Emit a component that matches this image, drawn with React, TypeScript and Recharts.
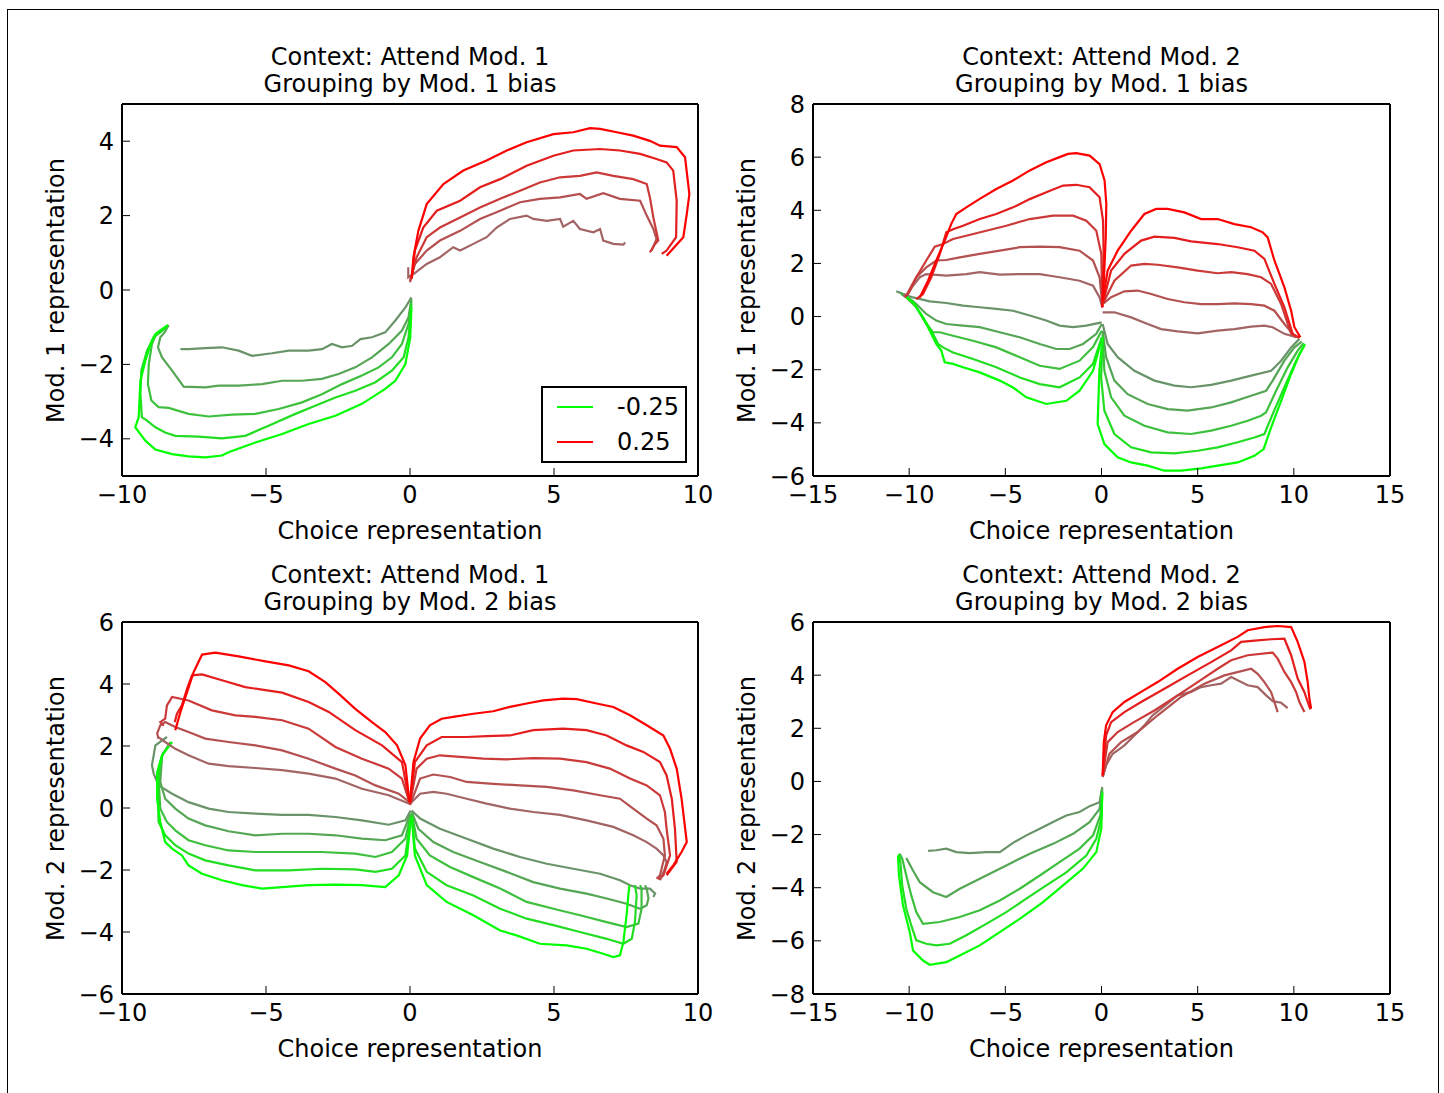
import React from 'react';
import { LineChart, Line, XAxis, YAxis } from 'recharts';

type Pt = [number, number];

// tick values
const ticksX10 = [-10, -5, 0, 5, 10];
const ticksX15 = [-15, -10, -5, 0, 5, 10, 15];
const ticksY1 = [-4, -2, 0, 2, 4];
const ticksY2 = [-6, -4, -2, 0, 2, 4, 6, 8];
const ticksY3 = [-6, -4, -2, 0, 2, 4, 6];
const ticksY4 = [-8, -6, -4, -2, 0, 2, 4, 6];

// colours, strongest bias first
const GREENS = ['#00ff00', '#22dd22', '#3ec03e', '#55a655', '#699369'];
const REDS = ['#ff0000', '#e41d1d', '#cc3939', '#b45050', '#a26464'];

// ---- panel 1: attend mod 1, grouped by mod 1 bias (strongest -> weakest)
const p1Green: Pt[][] = [
  [[0.05,-0.47],[0.01,-1.27],[-0.16,-1.99],[-0.51,-2.44],[-0.86,-2.66],[-1.67,-3.06],[-2.59,-3.38],[-3.52,-3.6],[-4.44,-3.87],[-5.37,-4.1],[-6.3,-4.36],[-6.53,-4.45],[-7.11,-4.5],[-7.69,-4.47],[-8.26,-4.41],[-8.84,-4.29],[-9.19,-4.05],[-9.54,-3.69],[-9.42,-3.42],[-9.36,-2.44],[-9.19,-1.9],[-8.96,-1.36],[-8.84,-1.18],[-8.61,-1.05],[-8.4,-0.94]],
  [[0.05,-0.38],[-0.05,-1.27],[-0.22,-1.81],[-0.63,-2.17],[-1.2,-2.48],[-1.9,-2.71],[-2.59,-2.89],[-3.29,-3.11],[-3.98,-3.33],[-4.91,-3.65],[-5.72,-3.92],[-6.53,-3.99],[-7.34,-3.94],[-8.15,-3.92],[-8.5,-3.83],[-8.84,-3.69],[-9.13,-3.51],[-9.31,-3.42],[-9.36,-2.8],[-9.33,-2.17],[-9.13,-1.63],[-8.9,-1.27],[-8.63,-1.11],[-8.44,-0.99]],
  [[0.05,-0.29],[-0.05,-0.91],[-0.28,-1.45],[-0.63,-1.81],[-1.09,-2.08],[-1.67,-2.3],[-2.36,-2.53],[-3.06,-2.8],[-3.75,-3.02],[-4.56,-3.2],[-5.37,-3.33],[-6.18,-3.35],[-6.99,-3.4],[-7.69,-3.33],[-8.38,-3.17],[-8.73,-3.15],[-8.98,-2.97],[-9.1,-2.53],[-9.07,-1.99],[-8.96,-1.45],[-8.84,-1.23],[-8.61,-1.09],[-8.44,-0.96]],
  [[0.05,-0.24],[-0.05,-0.73],[-0.28,-1.09],[-0.74,-1.45],[-1.32,-1.81],[-1.9,-2.08],[-2.48,-2.26],[-3.06,-2.39],[-3.75,-2.44],[-4.44,-2.44],[-5.14,-2.53],[-5.95,-2.57],[-6.64,-2.57],[-7.11,-2.62],[-7.86,-2.6],[-8.26,-2.17],[-8.61,-1.81],[-8.75,-1.54],[-8.67,-1.27],[-8.52,-1.14],[-8.38,-0.94]],
  [[0.05,-0.2],[-0.16,-0.47],[-0.51,-0.82],[-0.86,-1.14],[-1.32,-1.27],[-1.72,-1.32],[-2.01,-1.5],[-2.36,-1.54],[-2.71,-1.45],[-3.06,-1.59],[-3.52,-1.63],[-4.21,-1.63],[-4.79,-1.7],[-5.49,-1.77],[-5.95,-1.63],[-6.53,-1.54],[-7.11,-1.56],[-7.69,-1.59],[-7.97,-1.59]],
];
const p1Red: Pt[][] = [
  [[0.06,0.34],[0.12,0.88],[0.29,1.59],[0.58,2.31],[1.16,2.85],[1.85,3.21],[2.66,3.48],[3.36,3.75],[4.05,3.97],[4.98,4.19],[5.67,4.24],[6.25,4.35],[6.6,4.33],[7.18,4.24],[7.75,4.15],[8.33,4.01],[8.68,3.88],[9.26,3.84],[9.55,3.57],[9.7,2.58],[9.61,2.04],[9.49,1.42],[8.91,0.92]],
  [[0.06,0.3],[0.17,1.06],[0.46,1.68],[0.93,2.13],[1.74,2.4],[2.43,2.76],[3.13,2.98],[4.05,3.34],[4.98,3.61],[5.67,3.75],[6.6,3.79],[7.29,3.75],[7.99,3.66],[8.56,3.52],[8.91,3.43],[9.14,3.21],[9.26,2.4],[9.24,1.42],[8.91,1.06],[8.74,0.97]],
  [[0.0,0.25],[0.23,0.88],[0.58,1.42],[1.04,1.68],[1.74,1.95],[2.43,2.22],[3.13,2.45],[3.82,2.67],[4.51,2.89],[5.21,3.03],[5.9,3.07],[6.48,3.16],[7.06,3.07],[7.75,2.98],[8.22,2.85],[8.33,2.49],[8.45,1.95],[8.62,1.33],[8.51,1.24],[8.33,1.01]],
  [[0.0,0.21],[0.17,0.7],[0.58,1.06],[1.04,1.33],[1.74,1.59],[2.43,1.91],[3.13,2.13],[3.82,2.36],[4.51,2.45],[5.21,2.49],[5.9,2.58],[6.13,2.45],[6.71,2.6],[7.29,2.45],[7.99,2.4],[8.22,2.0],[8.45,1.64],[8.56,1.37],[8.39,1.06]],
  [[-0.06,0.61],[-0.06,0.34],[0.12,0.43],[0.58,0.7],[1.04,0.88],[1.5,1.15],[1.74,1.06],[2.2,1.24],[2.66,1.42],[3.01,1.68],[3.47,1.91],[4.05,2.0],[4.28,1.91],[4.75,1.86],[5.21,1.91],[5.32,1.7],[5.67,1.86],[5.9,1.64],[6.37,1.55],[6.6,1.64],[6.71,1.33],[7.06,1.24],[7.41,1.22],[7.47,1.28]],
];

// ---- panel 2: attend mod 2, grouped by mod 1 bias
const p2RedL: Pt[][] = [
  [[0.04,0.35],[0.13,1.48],[0.22,2.98],[0.25,4.24],[0.16,5.12],[-0.1,5.74],[-0.62,6.06],[-1.31,6.15],[-1.74,6.12],[-2.18,6.0],[-2.87,5.81],[-3.73,5.5],[-4.6,5.12],[-5.47,4.8],[-6.33,4.43],[-7.03,4.11],[-7.55,3.86],[-7.81,3.49],[-8.15,2.86],[-8.59,2.11],[-9.02,1.35],[-9.45,0.72]],
  [[0.04,0.35],[0.11,2.36],[0.08,3.61],[-0.1,4.49],[-0.62,4.87],[-1.31,4.96],[-2.0,4.93],[-2.87,4.68],[-3.73,4.42],[-4.6,4.11],[-5.47,3.86],[-6.33,3.67],[-7.2,3.42],[-7.72,3.29],[-8.07,3.17],[-8.41,2.35],[-8.85,1.48],[-9.28,0.85],[-9.63,0.66]],
  [[0.04,0.35],[-0.01,2.36],[-0.27,3.23],[-0.79,3.61],[-1.48,3.8],[-2.52,3.8],[-3.73,3.67],[-4.95,3.42],[-5.99,3.23],[-7.03,3.04],[-7.72,2.92],[-8.24,2.73],[-8.67,2.63],[-9.11,2.11],[-9.63,1.48],[-10.06,0.85],[-10.23,0.72]],
  [[0.04,0.47],[-0.1,1.48],[-0.44,2.11],[-1.14,2.48],[-2.18,2.61],[-3.21,2.63],[-4.25,2.61],[-5.29,2.48],[-6.33,2.36],[-7.37,2.23],[-8.07,2.13],[-8.59,2.11],[-9.11,1.85],[-9.63,1.48],[-9.97,1.04],[-10.15,0.79]],
  [[0.04,0.35],[-0.1,0.72],[-0.44,1.16],[-1.14,1.35],[-2.18,1.48],[-3.21,1.6],[-4.25,1.6],[-5.29,1.58],[-6.33,1.67],[-7.03,1.6],[-8.07,1.54],[-9.11,1.6],[-9.45,1.48],[-9.8,1.16],[-10.06,0.85],[-10.32,0.79]],
];
const p2RedR: Pt[][] = [
  [[0.06,0.6],[0.32,1.73],[0.84,2.48],[1.54,3.23],[2.23,3.86],[2.84,4.05],[3.44,4.05],[4.31,3.92],[5.18,3.67],[6.04,3.67],[6.91,3.48],[7.78,3.36],[8.38,3.17],[8.64,2.98],[8.99,2.11],[9.51,1.1],[9.86,0.22],[10.03,-0.4],[10.34,-0.78]],
  [[0.06,0.47],[0.5,1.73],[1.19,2.36],[2.06,2.86],[2.75,3.01],[3.79,2.96],[4.66,2.83],[6.04,2.73],[7.08,2.61],[7.95,2.48],[8.47,2.17],[8.99,1.23],[9.51,0.35],[9.94,-0.65],[10.3,-0.8]],
  [[0.06,0.47],[0.67,1.35],[1.54,1.92],[2.23,1.98],[2.92,1.95],[3.96,1.85],[5.0,1.73],[6.04,1.63],[6.74,1.67],[7.6,1.6],[8.3,1.48],[8.82,1.23],[9.34,0.47],[9.86,-0.65],[10.25,-0.8]],
  [[0.06,0.47],[0.5,0.73],[1.19,0.95],[1.88,0.98],[2.58,0.85],[3.44,0.66],[4.31,0.54],[5.18,0.47],[6.04,0.47],[6.91,0.5],[7.78,0.47],[8.47,0.41],[8.99,0.22],[9.51,-0.28],[10.03,-0.72]],
  [[0.06,0.16],[0.67,0.16],[1.54,-0.03],[2.4,-0.28],[3.1,-0.47],[3.96,-0.56],[5.0,-0.63],[6.04,-0.53],[6.91,-0.47],[7.78,-0.38],[8.47,-0.34],[8.9,-0.4],[9.51,-0.65],[10.12,-0.78]],
];
const p2GreenL: Pt[][] = [
  [[-0.06,-1.03],[-0.44,-2.04],[-1.14,-2.79],[-1.83,-3.17],[-2.87,-3.29],[-3.91,-3.04],[-4.6,-2.67],[-5.29,-2.41],[-6.33,-2.1],[-7.2,-1.91],[-7.72,-1.78],[-8.15,-1.72],[-8.33,-1.28],[-8.59,-1.03],[-8.85,-0.65],[-9.28,-0.03],[-9.8,0.54],[-10.15,0.72]],
  [[0.01,-0.78],[-0.44,-1.78],[-1.14,-2.29],[-2.18,-2.66],[-3.21,-2.54],[-4.25,-2.29],[-5.47,-1.91],[-6.68,-1.6],[-7.72,-1.35],[-8.24,-1.16],[-8.5,-1.03],[-8.76,-0.65],[-9.28,-0.03],[-9.8,0.54],[-10.23,0.79]],
  [[0.01,-0.53],[-0.44,-1.15],[-1.14,-1.66],[-2.18,-1.97],[-3.21,-1.85],[-4.25,-1.53],[-5.47,-1.16],[-6.68,-0.91],[-7.72,-0.72],[-8.41,-0.59],[-8.76,-0.59],[-9.11,-0.28],[-9.63,0.35],[-10.15,0.72],[-10.41,0.85]],
  [[0.01,-0.28],[-0.27,-0.65],[-0.96,-1.03],[-1.66,-1.22],[-2.35,-1.22],[-3.21,-1.03],[-4.25,-0.78],[-5.29,-0.59],[-6.33,-0.4],[-7.2,-0.34],[-8.07,-0.28],[-8.59,-0.15],[-9.11,0.1],[-9.63,0.47],[-10.15,0.79],[-10.49,0.91]],
  [[0.01,-0.22],[-0.79,-0.34],[-1.48,-0.4],[-2.18,-0.34],[-2.87,-0.15],[-3.73,0.04],[-4.6,0.22],[-5.47,0.29],[-6.33,0.35],[-7.2,0.41],[-8.07,0.51],[-8.93,0.57],[-9.8,0.72],[-10.32,0.85],[-10.67,0.95]],
];
const p2GreenR: Pt[][] = [
  [[0.06,-0.78],[-0.11,-2.04],[-0.2,-4.05],[0.15,-4.8],[0.84,-5.3],[1.54,-5.49],[2.4,-5.61],[3.27,-5.8],[4.14,-5.8],[5.18,-5.71],[6.04,-5.61],[7.08,-5.49],[7.95,-5.24],[8.43,-4.99],[8.82,-4.17],[9.34,-3.17],[9.86,-2.16],[10.29,-1.41],[10.58,-1.03]],
  [[0.06,-0.78],[-0.02,-2.29],[0.15,-3.54],[0.67,-4.42],[1.54,-4.92],[2.58,-5.11],[3.79,-5.15],[5.0,-5.05],[6.04,-4.92],[7.08,-4.73],[7.95,-4.55],[8.47,-4.42],[8.9,-3.67],[9.51,-2.66],[10.12,-1.66],[10.55,-1.09]],
  [[0.06,-0.66],[0.15,-2.04],[0.5,-3.04],[1.19,-3.73],[2.23,-4.11],[3.44,-4.36],[4.66,-4.42],[5.7,-4.29],[6.74,-4.11],[7.6,-3.92],[8.3,-3.73],[8.56,-3.6],[9.08,-2.79],[9.68,-1.91],[10.2,-1.28],[10.51,-1.0]],
  [[0.06,-0.53],[0.24,-1.53],[0.67,-2.41],[1.36,-2.92],[2.4,-3.29],[3.44,-3.48],[4.48,-3.54],[5.7,-3.42],[6.74,-3.23],[7.78,-2.98],[8.56,-2.79],[8.9,-2.41],[9.51,-1.66],[10.03,-1.16],[10.41,-0.94]],
  [[0.06,-0.28],[0.32,-1.03],[0.84,-1.53],[1.71,-2.04],[2.75,-2.41],[3.79,-2.6],[4.66,-2.66],[5.7,-2.57],[6.74,-2.41],[7.78,-2.22],[8.82,-2.04],[9.34,-1.66],[9.86,-1.16],[10.29,-0.84]],
];

// ---- panel 3: attend mod 1, grouped by mod 2 bias
const p3RedL: Pt[][] = [
  [[-0.02,0.19],[-0.16,1.38],[-0.45,2.02],[-0.86,2.45],[-1.32,2.77],[-1.9,3.2],[-2.48,3.69],[-2.94,4.06],[-3.52,4.41],[-4.21,4.6],[-5.02,4.73],[-5.95,4.89],[-6.76,5.01],[-7.22,4.95],[-7.51,4.39],[-7.74,3.74],[-7.97,3.1],[-8.15,2.51]],
  [[-0.02,0.19],[-0.28,1.48],[-0.97,2.02],[-1.9,2.51],[-2.82,3.1],[-3.52,3.42],[-4.44,3.72],[-5.02,3.8],[-5.72,3.9],[-6.53,4.12],[-7.22,4.31],[-7.57,4.28],[-7.74,3.85],[-7.92,3.31],[-8.09,3.04],[-8.17,2.77]],
  [[-0.02,0.19],[-0.28,0.95],[-0.74,1.27],[-1.67,1.59],[-2.59,1.97],[-3.52,2.56],[-4.44,2.83],[-5.37,2.94],[-6.06,2.99],[-6.88,3.15],[-7.69,3.47],[-8.26,3.58],[-8.44,3.31],[-8.5,2.88],[-8.67,2.77],[-8.55,2.65]],
  [[-0.02,0.19],[-0.39,0.46],[-1.2,0.73],[-1.9,1.05],[-2.59,1.27],[-3.52,1.59],[-4.44,1.86],[-5.37,2.02],[-6.3,2.13],[-7.11,2.24],[-7.69,2.45],[-8.15,2.61],[-8.5,2.77],[-8.67,2.67],[-8.78,2.4],[-8.73,2.24]],
  [[-0.02,0.14],[-0.74,0.41],[-1.67,0.62],[-2.59,0.95],[-3.52,1.11],[-4.44,1.22],[-5.37,1.29],[-6.3,1.35],[-6.99,1.43],[-7.69,1.7],[-8.15,1.91],[-8.5,2.13],[-8.67,2.24],[-8.78,2.29]],
];
const p3RedR: Pt[][] = [
  [[0.0,0.19],[0.12,1.48],[0.35,2.24],[0.69,2.67],[1.1,2.88],[1.5,2.94],[2.2,3.04],[2.89,3.12],[3.47,3.26],[4.05,3.37],[4.63,3.47],[5.32,3.53],[5.79,3.51],[6.48,3.37],[7.06,3.26],[7.64,2.99],[8.22,2.67],[8.8,2.34],[9.03,1.91],[9.26,1.27],[9.43,0.3],[9.61,-1.1],[9.43,-1.42],[9.14,-1.85],[8.91,-2.12]],
  [[0.0,0.14],[0.17,1.48],[0.58,2.02],[1.1,2.29],[1.97,2.29],[2.66,2.32],[3.47,2.34],[4.28,2.51],[5.32,2.56],[6.13,2.51],[6.83,2.34],[7.52,2.02],[8.1,1.81],[8.68,1.48],[8.91,1.05],[9.09,0.3],[9.2,-0.67],[9.26,-1.74],[8.91,-2.17]],
  [[0.0,0.14],[0.23,1.27],[0.58,1.59],[1.04,1.7],[1.74,1.65],[2.55,1.59],[3.36,1.57],[4.28,1.61],[5.21,1.59],[6.13,1.48],[6.94,1.27],[7.64,0.95],[8.22,0.73],[8.68,0.41],[8.85,-0.13],[8.91,-0.67],[9.03,-1.53],[8.8,-2.17],[8.62,-2.3]],
  [[0.0,0.09],[0.35,0.95],[0.81,1.08],[1.39,1.0],[1.97,0.84],[2.89,0.78],[3.82,0.73],[4.75,0.68],[5.67,0.57],[6.6,0.41],[7.29,0.3],[7.75,-0.02],[8.22,-0.34],[8.56,-0.56],[8.8,-0.99],[8.85,-1.53],[8.68,-2.17],[8.56,-2.28]],
  [[0.0,0.14],[0.35,0.46],[0.81,0.52],[1.27,0.46],[1.97,0.3],[2.66,0.14],[3.47,-0.02],[4.28,-0.13],[5.21,-0.22],[6.13,-0.4],[7.06,-0.61],[7.75,-0.88],[8.22,-1.1],[8.56,-1.31],[8.8,-1.53],[8.91,-1.74],[8.85,-1.96],[8.68,-2.33]],
];
const p3GreenL: Pt[][] = [
  [[0.02,-0.45],[-0.1,-1.53],[-0.39,-2.17],[-0.86,-2.55],[-1.67,-2.49],[-2.59,-2.47],[-3.52,-2.49],[-4.44,-2.55],[-5.14,-2.6],[-5.83,-2.49],[-6.53,-2.33],[-7.22,-2.12],[-7.69,-1.85],[-7.92,-1.53],[-8.26,-1.31],[-8.5,-1.1],[-8.67,-0.45],[-8.78,0.3],[-8.78,1.16],[-8.61,1.7],[-8.26,2.13]],
  [[0.02,-0.34],[-0.16,-1.53],[-0.63,-1.96],[-1.2,-2.06],[-1.9,-1.98],[-3.06,-1.96],[-4.21,-2.01],[-5.37,-2.01],[-6.3,-1.85],[-7.11,-1.69],[-7.69,-1.47],[-8.15,-1.2],[-8.5,-0.88],[-8.73,-0.45],[-8.75,0.41],[-8.7,1.27],[-8.61,1.59]],
  [[0.02,-0.24],[-0.16,-0.99],[-0.63,-1.42],[-1.2,-1.58],[-1.9,-1.47],[-3.06,-1.42],[-4.21,-1.42],[-5.37,-1.42],[-6.3,-1.37],[-7.11,-1.2],[-7.69,-1.04],[-8.15,-0.72],[-8.44,-0.45],[-8.67,-0.02],[-8.73,0.95],[-8.67,1.48],[-8.55,1.81]],
  [[0.02,-0.18],[-0.28,-0.88],[-0.86,-1.04],[-1.67,-0.99],[-2.59,-0.88],[-3.52,-0.83],[-4.44,-0.83],[-5.37,-0.88],[-6.3,-0.75],[-7.11,-0.56],[-7.69,-0.34],[-8.15,-0.02],[-8.5,0.3],[-8.67,0.84],[-8.61,1.7],[-8.32,2.13]],
  [[0.02,-0.08],[-0.16,-0.4],[-0.74,-0.54],[-1.67,-0.4],[-2.59,-0.29],[-3.52,-0.22],[-4.44,-0.22],[-5.37,-0.18],[-6.3,-0.13],[-6.99,-0.02],[-7.69,0.19],[-8.26,0.46],[-8.73,0.73],[-8.9,1.11],[-8.96,1.38],[-8.84,2.02],[-8.44,2.29]],
];
const p3GreenR: Pt[][] = [
  [[0.06,-0.29],[0.17,-1.53],[0.58,-2.49],[1.27,-3.03],[2.2,-3.46],[3.13,-3.95],[3.7,-4.11],[4.51,-4.38],[5.44,-4.43],[6.13,-4.54],[6.71,-4.7],[7.06,-4.81],[7.29,-4.75],[7.41,-4.32],[7.52,-3.46],[7.58,-2.82],[7.62,-2.49]],
  [[0.06,-0.24],[0.17,-1.31],[0.58,-2.06],[1.27,-2.49],[2.2,-2.82],[3.13,-3.25],[4.05,-3.57],[4.98,-3.78],[5.9,-4.0],[6.83,-4.22],[7.41,-4.38],[7.7,-4.22],[7.81,-3.68],[7.87,-2.82],[7.81,-2.49]],
  [[0.06,-0.18],[0.23,-0.99],[0.69,-1.53],[1.39,-1.9],[2.2,-2.23],[3.13,-2.6],[4.05,-3.03],[4.98,-3.25],[5.9,-3.46],[6.83,-3.68],[7.52,-3.84],[7.93,-3.73],[8.04,-3.25],[8.04,-2.6],[7.99,-2.49]],
  [[0.06,-0.13],[0.29,-0.67],[0.81,-1.1],[1.5,-1.42],[2.43,-1.74],[3.36,-2.06],[4.28,-2.39],[5.21,-2.6],[6.13,-2.76],[6.83,-2.92],[7.52,-3.09],[7.99,-3.25],[8.22,-3.14],[8.28,-2.92],[8.22,-2.6],[8.16,-2.49]],
  [[0.06,-0.08],[0.35,-0.34],[1.04,-0.67],[1.97,-0.99],[2.89,-1.31],[3.82,-1.58],[4.75,-1.8],[5.67,-1.96],[6.6,-2.12],[7.29,-2.33],[7.64,-2.49],[7.99,-2.6],[8.33,-2.6],[8.51,-2.76],[8.45,-2.87]],
];

// ---- panel 4: attend mod 2, grouped by mod 2 bias
const p4Green: Pt[][] = [
  [[0.04,-0.46],[-0.01,-1.78],[-0.27,-2.66],[-0.96,-3.28],[-2.0,-3.91],[-3.04,-4.54],[-4.25,-5.17],[-5.29,-5.67],[-6.33,-6.17],[-7.37,-6.55],[-8.07,-6.8],[-8.93,-6.9],[-9.28,-6.74],[-9.8,-6.36],[-9.97,-5.67],[-10.32,-4.67],[-10.53,-3.54],[-10.58,-2.79]],
  [[0.04,-0.4],[-0.01,-1.4],[-0.27,-2.16],[-0.79,-2.79],[-1.83,-3.42],[-2.87,-3.91],[-3.91,-4.41],[-4.95,-4.92],[-5.99,-5.36],[-7.03,-5.79],[-7.89,-6.11],[-8.59,-6.17],[-9.11,-6.11],[-9.63,-5.98],[-9.89,-5.42],[-10.15,-4.79],[-10.36,-3.91],[-10.46,-3.03],[-10.53,-2.72]],
  [[0.04,-0.34],[-0.06,-1.28],[-0.44,-2.03],[-1.14,-2.53],[-2.18,-3.04],[-3.21,-3.54],[-4.25,-4.04],[-5.29,-4.48],[-6.33,-4.85],[-7.37,-5.1],[-8.41,-5.29],[-9.28,-5.36],[-9.63,-4.92],[-9.89,-4.29],[-10.15,-3.54],[-10.36,-2.91],[-10.49,-2.72]],
  [[0.04,-0.27],[-0.1,-1.03],[-0.62,-1.53],[-1.48,-1.97],[-2.52,-2.35],[-3.73,-2.72],[-4.95,-3.16],[-6.33,-3.66],[-7.37,-4.04],[-8.07,-4.35],[-8.76,-4.17],[-9.45,-3.79],[-9.8,-3.35],[-10.15,-2.88]],
  [[0.04,-0.21],[-0.1,-0.78],[-0.62,-0.93],[-1.14,-1.15],[-1.83,-1.28],[-2.52,-1.53],[-3.21,-1.78],[-3.91,-2.03],[-4.6,-2.31],[-5.29,-2.66],[-5.99,-2.66],[-6.85,-2.7],[-7.55,-2.66],[-8.07,-2.53],[-8.59,-2.59],[-9.02,-2.61]],
];
const p4Red: Pt[][] = [
  [[0.06,0.23],[0.12,1.48],[0.24,2.11],[0.58,2.61],[1.19,2.99],[2.06,3.37],[2.92,3.74],[3.96,4.24],[5.0,4.68],[6.04,5.06],[7.08,5.44],[7.6,5.69],[8.47,5.81],[9.16,5.85],[9.86,5.81],[10.2,5.25],[10.55,4.5],[10.72,3.74],[10.81,3.11],[10.9,2.74]],
  [[0.06,0.23],[0.24,1.73],[0.5,2.23],[1.19,2.61],[2.06,2.99],[3.27,3.49],[4.48,3.99],[5.7,4.49],[6.74,4.93],[7.26,5.25],[8.12,5.31],[8.82,5.35],[9.51,5.37],[9.86,4.75],[10.2,3.87],[10.55,3.36],[10.72,2.99],[10.86,2.71]],
  [[0.06,0.2],[0.32,1.48],[0.84,1.86],[1.71,2.24],[2.75,2.67],[3.96,3.24],[5.0,3.74],[6.04,4.24],[6.74,4.56],[7.6,4.75],[8.9,4.85],[9.16,4.62],[9.51,4.12],[9.86,3.74],[10.12,3.36],[10.29,2.99],[10.55,2.61]],
  [[0.06,0.17],[0.41,1.04],[1.02,1.48],[1.88,1.86],[2.92,2.49],[4.14,3.18],[5.35,3.68],[6.39,3.99],[7.43,4.18],[7.78,4.24],[8.12,4.05],[8.47,3.74],[8.82,3.36],[8.99,2.99],[9.16,2.61]],
  [[0.06,0.17],[0.24,0.61],[0.58,1.04],[0.84,1.17],[1.19,1.36],[1.71,1.73],[2.23,2.11],[2.66,2.49],[3.1,2.74],[3.96,3.24],[4.66,3.37],[5.18,3.55],[5.7,3.62],[6.22,3.68],[6.74,3.93],[7.08,3.81],[7.6,3.62],[8.12,3.55],[8.56,3.24],[8.9,3.02],[9.34,2.96],[9.68,2.76]],
];

const FONT = "'DejaVu Sans', 'Liberation Sans', sans-serif";
const FS = 24;

const fmt = (v: number) => (v < 0 ? `\u2212${-v}` : `${v}`);

type Traj = { pts: Pt[]; color: string };

const withColors = (groups: Pt[][], palette: string[]): Traj[] =>
  groups.map((pts, i) => ({ pts, color: palette[i] })).reverse();

interface PanelProps {
  left: number;
  top: number;
  w: number;
  h: number;
  xDomain: [number, number];
  yDomain: [number, number];
  xTicks: number[];
  yTicks: number[];
  trajs: Traj[];
  title: string[];
  yLabel: string;
  legend?: boolean;
}

const frameLine = { stroke: '#000', strokeWidth: 2 };
const tickLine = { stroke: '#000', strokeWidth: 1 };
const tickText = { fill: '#000', fontSize: FS, fontFamily: FONT };

function Panel({ left, top, w, h, xDomain, yDomain, xTicks, yTicks, trajs, title, yLabel, legend }: PanelProps) {
  const padL = 100, padT = 20, padR = 20, padB = 50;
  return (
    <>
      <div style={{ position: 'absolute', left: left - padL, top: top - padT }}>
        <LineChart
          width={w + padL + padR}
          height={h + padT + padB}
          margin={{ top: padT - 10, right: padR - 10, bottom: padB - 40, left: padL - 60 }}
        >
          <XAxis
            type="number" dataKey="x" domain={xDomain} ticks={xTicks} allowDataOverflow interval={0}
            height={40} tickSize={-8} tickMargin={18} tickFormatter={fmt}
            tick={tickText} axisLine={frameLine} tickLine={tickLine}
          />
          <XAxis
            xAxisId="top" orientation="top" type="number" domain={xDomain} ticks={xTicks}
            allowDataOverflow interval={0} height={10} tickSize={-8} tick={false}
            axisLine={frameLine} tickLine={tickLine}
          />
          <YAxis
            type="number" dataKey="y" domain={yDomain} ticks={yTicks} allowDataOverflow interval={0}
            width={60} tickSize={-8} tickMargin={16} tickFormatter={fmt}
            tick={tickText} axisLine={frameLine} tickLine={tickLine}
          />
          <YAxis
            yAxisId="right" orientation="right" type="number" domain={yDomain} ticks={yTicks}
            allowDataOverflow interval={0} width={10} tickSize={-8} tick={false}
            axisLine={frameLine} tickLine={tickLine}
          />
          {trajs.map((t, i) => (
            <Line
              key={i}
              data={t.pts.map(([x, y]) => ({ x, y }))}
              dataKey="y"
              type="linear"
              stroke={t.color}
              strokeWidth={2.2}
              dot={false}
              activeDot={false}
              isAnimationActive={false}
            />
          ))}
        </LineChart>
      </div>
      <div
        style={{
          position: 'absolute', left, top: top - 60, width: w, textAlign: 'center',
          fontFamily: FONT, fontSize: FS, lineHeight: '27px', color: '#000',
        }}
      >
        {title.map((t) => (
          <div key={t}>{t}</div>
        ))}
      </div>
      <div
        style={{
          position: 'absolute', left, top: top + h + 42, width: w, textAlign: 'center',
          fontFamily: FONT, fontSize: FS, lineHeight: '27px', color: '#000',
        }}
      >
        Choice representation
      </div>
      <div
        style={{
          position: 'absolute', left: left - 66 - h / 2, top: top + h / 2 - 13.5, width: h, height: 27,
          textAlign: 'center', fontFamily: FONT, fontSize: FS, lineHeight: '27px', color: '#000',
          transform: 'rotate(-90deg)', whiteSpace: 'nowrap',
        }}
      >
        {yLabel}
      </div>
      {legend && (
        <div
          style={{
            position: 'absolute', left: left + w - 157, top: top + h - 90, width: 146, height: 77,
            border: '2px solid #000', boxSizing: 'border-box', background: '#fff',
            fontFamily: FONT, fontSize: FS, color: '#000',
          }}
        >
          {[['-0.25', GREENS[0]], ['0.25', REDS[0]]].map(([label, c], i) => (
            <div key={label} style={{ position: 'absolute', left: 0, top: 4 + i * 35, height: 30, width: '100%' }}>
              <div style={{ position: 'absolute', left: 14, top: 14, width: 36, height: 2, background: c }} />
              <div style={{ position: 'absolute', left: 74, top: 0, lineHeight: '30px' }}>{label}</div>
            </div>
          ))}
        </div>
      )}
    </>
  );
}

export default function App() {
  return (
    <div style={{ position: 'absolute', left: 0, top: 0, width: 1444, height: 1093, overflow: 'hidden', background: '#fff' }}>
      <div
        style={{
          position: 'absolute', left: 7, top: 9, width: 1432, height: 1200,
          borderLeft: '1px solid #000', borderTop: '1px solid #000', borderRight: '1px solid #000',
          boxSizing: 'border-box',
        }}
      />
      <Panel
        left={122} top={104} w={576} h={372}
        xDomain={[-10, 10]} yDomain={[-5, 5]} xTicks={ticksX10} yTicks={ticksY1}
        trajs={[...withColors(p1Green, GREENS), ...withColors(p1Red, REDS)]}
        title={['Context: Attend Mod. 1', 'Grouping by Mod. 1 bias']}
        yLabel="Mod. 1 representation"
        legend
      />
      <Panel
        left={813} top={104} w={577} h={372}
        xDomain={[-15, 15]} yDomain={[-6, 8]} xTicks={ticksX15} yTicks={ticksY2}
        trajs={[
          ...withColors(p2GreenL, GREENS), ...withColors(p2GreenR, GREENS),
          ...withColors(p2RedL, REDS), ...withColors(p2RedR, REDS),
        ]}
        title={['Context: Attend Mod. 2', 'Grouping by Mod. 1 bias']}
        yLabel="Mod. 1 representation"
      />
      <Panel
        left={122} top={622} w={576} h={372}
        xDomain={[-10, 10]} yDomain={[-6, 6]} xTicks={ticksX10} yTicks={ticksY3}
        trajs={[
          ...withColors(p3GreenL, GREENS), ...withColors(p3GreenR, GREENS),
          ...withColors(p3RedL, REDS), ...withColors(p3RedR, REDS),
        ]}
        title={['Context: Attend Mod. 1', 'Grouping by Mod. 2 bias']}
        yLabel="Mod. 2 representation"
      />
      <Panel
        left={813} top={622} w={577} h={372}
        xDomain={[-15, 15]} yDomain={[-8, 6]} xTicks={ticksX15} yTicks={ticksY4}
        trajs={[...withColors(p4Green, GREENS), ...withColors(p4Red, REDS)]}
        title={['Context: Attend Mod. 2', 'Grouping by Mod. 2 bias']}
        yLabel="Mod. 2 representation"
      />
    </div>
  );
}
